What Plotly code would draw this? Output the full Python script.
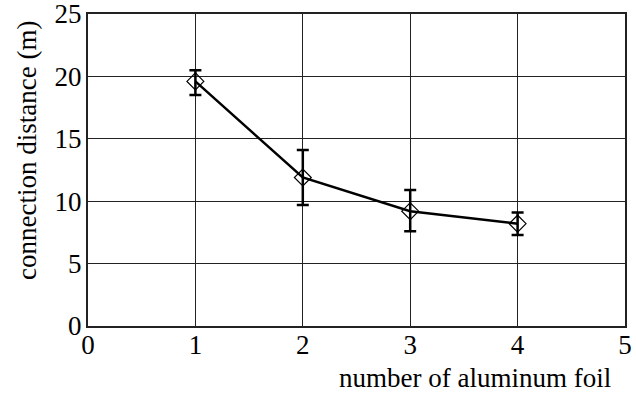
import plotly.graph_objects as go

foil_count = [1, 2, 3, 4]
distance_m = [19.6, 11.9, 9.2, 8.2]
err_plus = [0.9, 2.2, 1.7, 0.9]
err_minus = [1.1, 2.2, 1.6, 0.9]

x_ticks = [0, 1, 2, 3, 4, 5]
y_ticks = [0, 5, 10, 15, 20, 25]

FONT = "Liberation Serif"
FS = 27

fig = go.Figure()
fig.add_trace(go.Scatter(
    x=foil_count, y=distance_m, mode="lines+markers",
    line=dict(color="black", width=2.5),
    marker=dict(symbol="diamond-open", size=13, color="black", line=dict(width=1.2)),
    error_y=dict(type="data", symmetric=False, array=err_plus, arrayminus=err_minus,
                 color="black", thickness=2.5, width=6),
    showlegend=False,
))

fig.update_layout(
    width=636, height=393,
    margin=dict(l=88, r=11, t=14, b=67),
    paper_bgcolor="white", plot_bgcolor="white",
    font=dict(family=FONT, size=FS, color="black"),
    xaxis=dict(range=[0, 5], tickvals=x_ticks, showgrid=True, gridcolor="#222", gridwidth=1,
               showline=True, linecolor="#222", linewidth=2, mirror=True, ticks="",
               zeroline=False, tickfont=dict(size=FS, family=FONT), automargin=False,
               ticklabelstandoff=-6, ticklabeloverflow="allow"),
    yaxis=dict(range=[0, 25], tickvals=y_ticks, showgrid=True, gridcolor="#222", gridwidth=1,
               showline=True, linecolor="#222", linewidth=2, mirror=True, ticks="",
               zeroline=False, tickfont=dict(size=FS, family=FONT), ticklabelstandoff=-1,
               automargin=False, ticklabeloverflow="allow"),
    annotations=[
        dict(text="number of aluminum foil", xref="paper", yref="paper",
             x=(613 - 88) / (625 - 88), y=0, xanchor="right", yanchor="middle", yshift=-52,
             showarrow=False, font=dict(size=FS, family=FONT)),
        dict(text="connection distance (m)", xref="paper", yref="paper",
             x=0, y=(326 - 151) / (326 - 14), xanchor="center", yanchor="middle",
             xshift=-61, textangle=-90,
             showarrow=False, font=dict(size=FS, family=FONT)),
    ],
)

fig.write_html("out.html")
